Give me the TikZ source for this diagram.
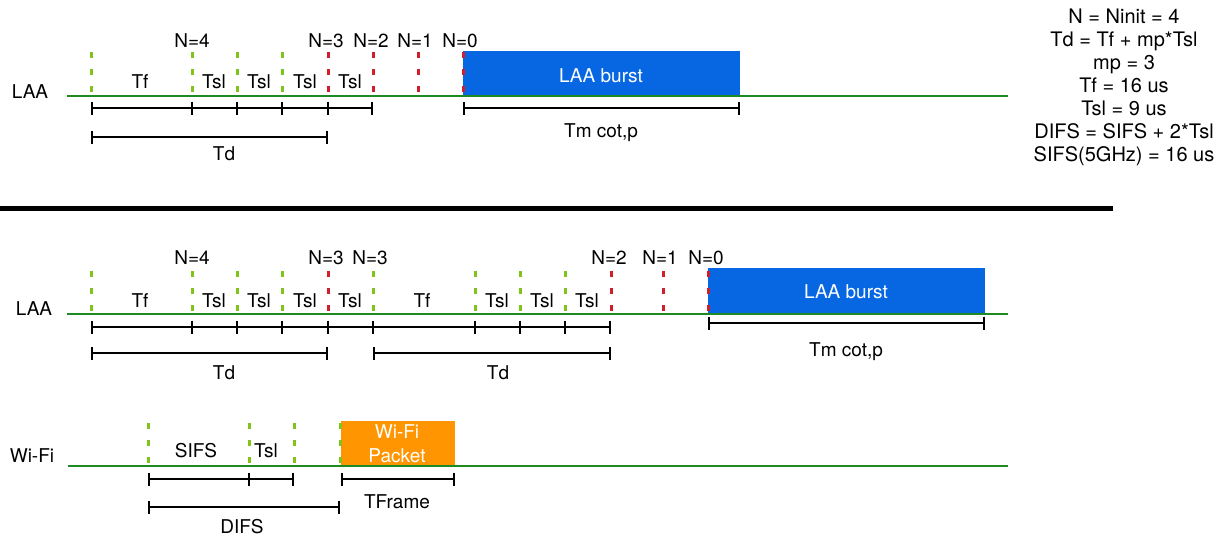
\documentclass[tikz,border=0pt]{standalone}
\usepackage{fontspec}
\setmainfont{TeX Gyre Heros}
\usetikzlibrary{arrows.meta}

\definecolor{mediumgreen}{HTML}{1E8A22}
\definecolor{slotgreen}{HTML}{7FC31C}
\definecolor{slotred}{HTML}{CF1F2C}
\definecolor{burstblue}{HTML}{0767E2}
\definecolor{packetorange}{HTML}{FF9500}

\tikzset{
	medium/.style={mediumgreen, line width=2.6pt},
	gslot/.style={slotgreen, line width=3pt, dash pattern=on 6pt off 11pt},
	rslot/.style={slotred, line width=3pt, dash pattern=on 6pt off 11pt},
	span/.style={line width=1.8pt, {Bar[width=13pt,line width=1.8pt]}-{Bar[width=13pt,line width=1.8pt]}},
	tick/.style={line width=1.8pt},
	txt/.style={anchor=base, inner sep=0pt, font=\fontsize{19}{22}\selectfont},
	wtxt/.style={txt, white},
}

\begin{document}
\begin{tikzpicture}[x=1pt,y=-1pt]
		\useasboundingbox (0,0) rectangle (1232,539);

		% ---- upper part: LAA, no Wi-Fi ----
		\fill[burstblue] (463,51) rectangle (740,96);
		\node[wtxt] (burstA) at (601,82) {LAA burst};
		\draw[medium] (67,96) -- (1008,96);
		\node[txt] (laaA) at (30,98) {LAA};

		% slots
		\draw[gslot] (91,52) -- (91,96);
		\draw[gslot] (192,52) -- (192,96);
		\draw[gslot] (237,52) -- (237,96);
		\draw[gslot] (282,52) -- (282,96);
		\draw[rslot] (328,52) -- (328,96);
		\draw[rslot] (373,52) -- (373,96);
		\draw[rslot] (418,52) -- (418,96);
		\draw[rslot] (463,52) -- (463,96);

		\node[txt] at (140,88) {Tf};
		\node[txt] at (214,88) {Tsl};
		\node[txt] at (259,88) {Tsl};
		\node[txt] at (305,88) {Tsl};
		\node[txt] at (350,88) {Tsl};

		\node[txt] at (192,47) {N=4};
		\node[txt] at (326,47) {N=3};
		\node[txt] at (371,47) {N=2};
		\node[txt] at (415,47) {N=1};
		\node[txt] at (460,47) {N=0};

		% durations
		\draw[span] (91,108) -- (373,108);
		\foreach \x in {192,237,282,328}
			\draw[tick] (\x,101.5) -- (\x,114.5);
		\draw[span] (91,137) -- (328,137);
		\node[txt] (tdA) at (224,160) {Td};
		\draw[span] (463,108) -- (740,108);
		\node[txt] (tmA) at (601,137) {Tm cot,p};

		% parameters
		\node[align=center, inner sep=0pt, font=\fontsize{20}{23}\selectfont] (params) at (1124,87)
			{N = Ninit = 4\\ Td = Tf + mp*Tsl\\ mp = 3\\ Tf = 16 us\\ Tsl = 9 us\\ DIFS = SIFS + 2*Tsl\\ SIFS(5GHz) = 16 us};

		% separator
		\draw[line width=5pt] (0,208) -- (1113,208);

		% ---- lower part: LAA with Wi-Fi ----
		\fill[burstblue] (708,268) rectangle (985,314);
		\node[wtxt] (burstB) at (846,298) {LAA burst};
		\draw[medium] (67,314) -- (1008,314);
		\node[txt] (laaB) at (34,315) {LAA};

		\draw[gslot] (91,271) -- (91,314);
		\draw[gslot] (192,271) -- (192,314);
		\draw[gslot] (237,271) -- (237,314);
		\draw[gslot] (282,271) -- (282,314);
		\draw[rslot] (328,271) -- (328,314);
		\draw[gslot] (373,271) -- (373,314);
		\draw[gslot] (475,271) -- (475,314);
		\draw[gslot] (520,271) -- (520,314);
		\draw[gslot] (565,271) -- (565,314);
		\draw[rslot] (611,271) -- (611,314);
		\draw[rslot] (663,271) -- (663,314);
		\draw[rslot] (708,271) -- (708,314);

		\node[txt] at (140,307) {Tf};
		\node[txt] at (214,307) {Tsl};
		\node[txt] at (259,307) {Tsl};
		\node[txt] at (305,307) {Tsl};
		\node[txt] at (350,307) {Tsl};
		\node[txt] at (422,307) {Tf};
		\node[txt] at (497,307) {Tsl};
		\node[txt] at (542,307) {Tsl};
		\node[txt] at (587,307) {Tsl};

		\node[txt] at (192,264) {N=4};
		\node[txt] at (326,264) {N=3};
		\node[txt] at (370,264) {N=3};
		\node[txt] at (609,264) {N=2};
		\node[txt] at (660,264) {N=1};
		\node[txt] at (706,264) {N=0};

		\draw[span] (91,327) -- (611,327);
		\foreach \x in {192,237,282,328,373,475,520,565}
			\draw[tick] (\x,320.5) -- (\x,333.5);
		\draw[span] (91,353) -- (328,353);
		\node[txt] (tdB) at (224,379) {Td};
		\draw[span] (373,353) -- (611,353);
		\node[txt] (tdC) at (498,379) {Td};
		\draw[span] (708,323) -- (985,323);
		\node[txt] (tmB) at (846,356) {Tm cot,p};

		% ---- Wi-Fi ----
		\fill[packetorange] (341,421) rectangle (455,466);
		\node[wtxt] at (397,438) {Wi-Fi};
		\node[wtxt] at (397,462) {Packet};
		\draw[medium] (68,466) -- (1008,466);
		\node[txt] (wifi) at (32,462) {Wi-Fi};

		\draw[gslot] (148,423) -- (148,466);
		\draw[gslot] (249,423) -- (249,466);
		\draw[gslot] (294,423) -- (294,466);
		\draw[gslot] (340,423) -- (340,466);

		\node[txt] at (196,457) {SIFS};
		\node[txt] at (266,457) {Tsl};

		\draw[span] (148,479) -- (294,479);
		\draw[tick] (249,472.5) -- (249,485.5);
		\draw[span] (341,479) -- (455,479);
		\node[txt] (tframe) at (397,508) {TFrame};
		\draw[span] (148,507) -- (340,507);
		\node[txt] (difs) at (242,533) {DIFS};
	\end{tikzpicture}
\end{document}
